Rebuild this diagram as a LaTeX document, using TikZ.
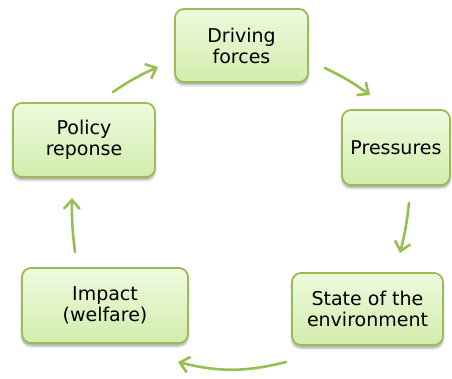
\documentclass[tikz,border=0pt]{standalone}
\usepackage{fontspec}
\setmainfont{DejaVu Sans}
\usetikzlibrary{arrows.meta,shadows.blur}
\definecolor{boxtop}{RGB}{238,250,222}
\definecolor{boxbot}{RGB}{210,237,172}
\definecolor{boxline}{RGB}{155,187,89}
\definecolor{arrowcol}{RGB}{150,190,80}
\tikzset{
  dbox/.style={draw=boxline, line width=1.8pt, rounded corners=9pt,
    top color=boxtop, bottom color=boxbot, align=center,
    font=\fontsize{19}{21}\selectfont, text=black,
    blur shadow={shadow xshift=0pt, shadow yshift=-3pt, shadow blur steps=6, shadow opacity=35},
    inner sep=0pt},
  cyc/.style={draw=arrowcol, line width=2.6pt, line cap=round,
    -{Straight Barb[length=9pt,width=16pt,line width=2.6pt]}}
}
\begin{document}
\begin{tikzpicture}[x=1pt,y=1pt]
\useasboundingbox (0,0) rectangle (452,378);
\node[dbox, minimum width=133pt, minimum height=73pt] (drv) at (241.5,332.5) {Driving\\forces};
\node[dbox, minimum width=108pt, minimum height=75pt] (prs) at (396,230.5) {Pressures};
\node[dbox, minimum width=151pt, minimum height=72pt] (ste) at (367.5,69) {State of the\\environment};
\node[dbox, minimum width=166pt, minimum height=75pt] (imp) at (105,72.5) {Impact\\(welfare)};
\node[dbox, minimum width=142pt, minimum height=74pt] (pol) at (84,238) {Policy\\reponse};
\coordinate (a1s) at (113,286);
\coordinate (a1e) at (158,311);
\coordinate (a2s) at (325,310);
\coordinate (a2e) at (370,283);
\coordinate (a3s) at (409,175);
\coordinate (a3e) at (400,125);
\coordinate (a4s) at (286,16);
\coordinate (a4e) at (178,16);
\coordinate (a5s) at (75,126);
\coordinate (a5e) at (72,180);
\draw[cyc] (a1s) to[bend left=5] (a1e);
\draw[cyc] (a2s) to[bend left=5] (a2e);
\draw[cyc] (a3s) to[bend left=4] (a3e);
\draw[cyc] (a4s) to[bend left=14] (a4e);
\draw[cyc] (a5s) to[bend left=4] (a5e);
\end{tikzpicture}
\end{document}
